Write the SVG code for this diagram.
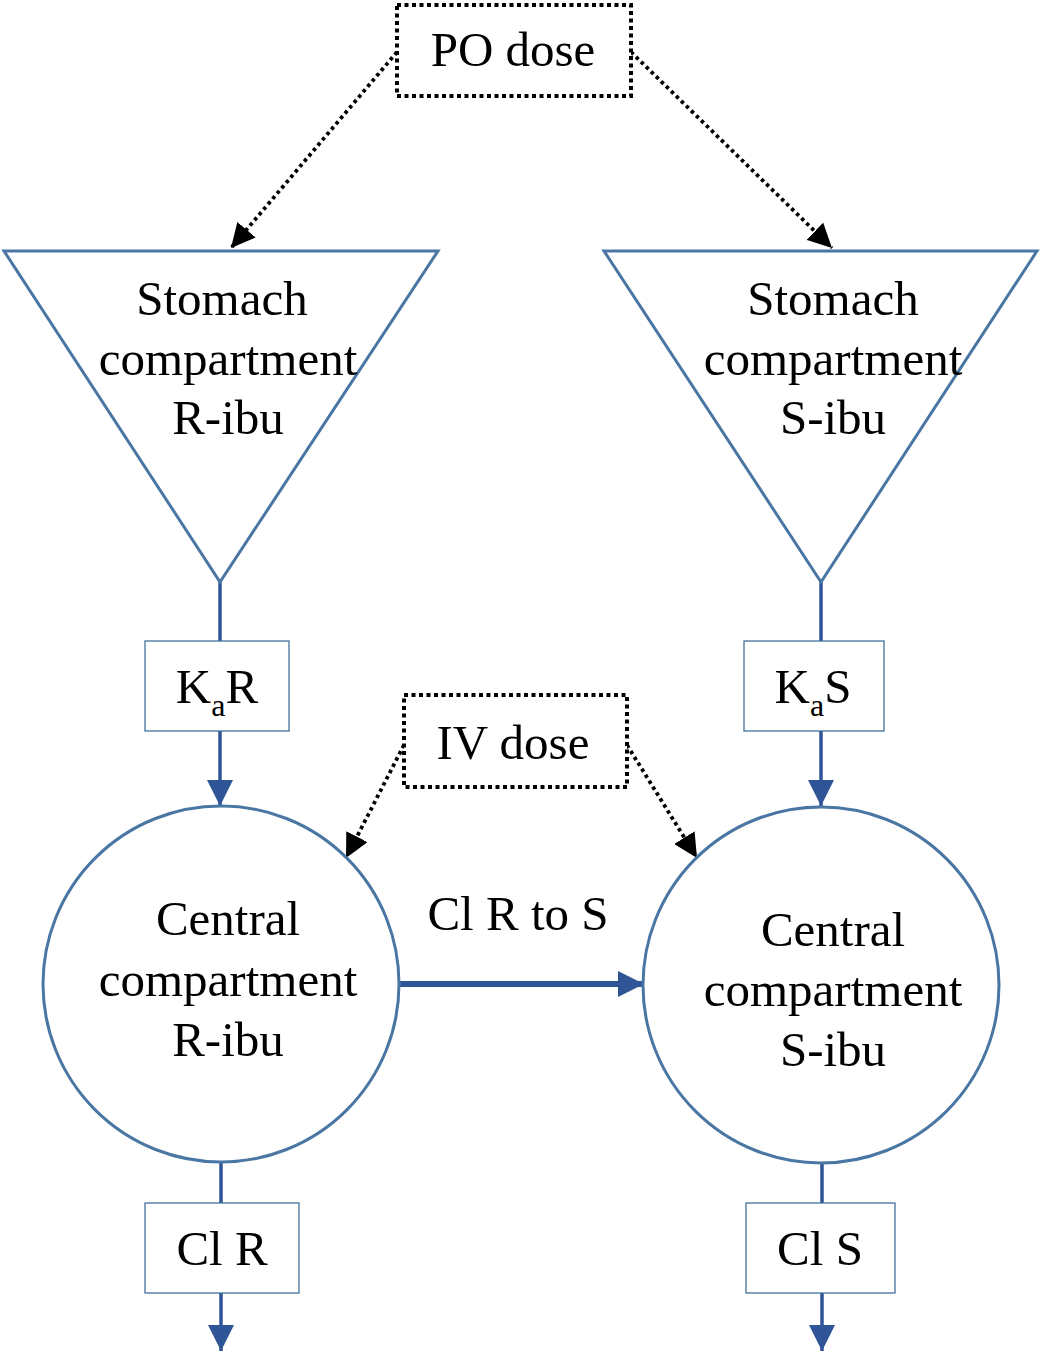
<svg xmlns="http://www.w3.org/2000/svg" width="1043" height="1357" viewBox="0 0 1043 1357">
<defs>
<style>
text{font-family:"Liberation Serif","Times New Roman",serif;font-size:49px;fill:#000;text-anchor:middle}
.shape{fill:#fff;stroke:#4a76a3;stroke-width:3}
.box{fill:#fff;stroke:#41719c;stroke-width:1.3}
.dose{fill:#fff;stroke:#000;stroke-width:4;stroke-dasharray:4 3.5}
.flow{fill:none;stroke:#2f5597;stroke-width:3.5}
.dot{fill:none;stroke:#000;stroke-width:3.8;stroke-dasharray:3.5 3.5}
</style>
<marker id="ab" markerUnits="userSpaceOnUse" markerWidth="26" markerHeight="26" viewBox="0 0 26 26" refX="26" refY="13" orient="auto"><path d="M0,0 L26,13 L0,26 Z" fill="#2f5597"/></marker>
<marker id="ak" markerUnits="userSpaceOnUse" markerWidth="24" markerHeight="24" viewBox="0 0 24 24" refX="24" refY="12" orient="auto"><path d="M0,0 L24,12 L0,24 Z" fill="#000"/></marker>
</defs>
<g id="connectors">
<line class="dot" x1="397" y1="52" x2="231" y2="248" marker-end="url(#ak)"/>
<line class="dot" x1="631" y1="52" x2="832" y2="248" marker-end="url(#ak)"/>
<line class="dot" x1="404" y1="745" x2="346" y2="858" marker-end="url(#ak)"/>
<line class="dot" x1="627" y1="745" x2="697" y2="858" marker-end="url(#ak)"/>
<line class="flow" x1="220" y1="582" x2="220" y2="641"/>
<line class="flow" x1="220" y1="731" x2="220" y2="806" marker-end="url(#ab)"/>
<line class="flow" x1="821" y1="582" x2="821" y2="641"/>
<line class="flow" x1="821" y1="731" x2="821" y2="806" marker-end="url(#ab)"/>
<line class="flow" x1="221" y1="1162" x2="221" y2="1203"/>
<line class="flow" x1="221" y1="1293" x2="221" y2="1351" marker-end="url(#ab)"/>
<line class="flow" x1="822" y1="1162" x2="822" y2="1203"/>
<line class="flow" x1="822" y1="1293" x2="822" y2="1351" marker-end="url(#ab)"/>
<line class="flow" style="stroke-width:6" x1="399" y1="984" x2="644" y2="984" marker-end="url(#ab)"/>
<text x="518" y="930">Cl R to S</text>
</g>
<g id="po-dose">
<rect class="dose" x="397" y="5" width="234" height="91"/>
<text x="513" y="66">PO dose</text>
</g>
<g id="stomach-r">
<polygon class="shape" points="4,251 438,251 220,582"/>
<text x="222" y="315">Stomach</text>
<text x="228" y="375">compartment</text>
<text x="228" y="434">R-ibu</text>
</g>
<g id="stomach-s">
<polygon class="shape" points="604,251 1037,251 821,582"/>
<text x="833" y="315">Stomach</text>
<text x="833" y="375">compartment</text>
<text x="833" y="434">S-ibu</text>
</g>
<g id="ka-r">
<rect class="box" x="145" y="641" width="144" height="90"/>
<text x="217" y="703">K<tspan font-size="32" dy="13">a</tspan><tspan dy="-13">R</tspan></text>
</g>
<g id="ka-s">
<rect class="box" x="744" y="641" width="140" height="90"/>
<text x="813" y="703">K<tspan font-size="32" dy="13">a</tspan><tspan dy="-13">S</tspan></text>
</g>
<g id="iv-dose">
<rect class="dose" x="404" y="695" width="223" height="92"/>
<text x="513" y="759">IV dose</text>
</g>
<g id="central-r">
<circle class="shape" cx="221" cy="984" r="178"/>
<text x="228" y="935">Central</text>
<text x="228" y="996">compartment</text>
<text x="228" y="1056">R-ibu</text>
</g>
<g id="central-s">
<circle class="shape" cx="821" cy="985" r="178"/>
<text x="833" y="946">Central</text>
<text x="833" y="1006">compartment</text>
<text x="833" y="1066">S-ibu</text>
</g>
<g id="cl-r">
<rect class="box" x="145" y="1203" width="154" height="90"/>
<text x="222" y="1265">Cl R</text>
</g>
<g id="cl-s">
<rect class="box" x="746" y="1203" width="149" height="90"/>
<text x="820" y="1265">Cl S</text>
</g>
</svg>
